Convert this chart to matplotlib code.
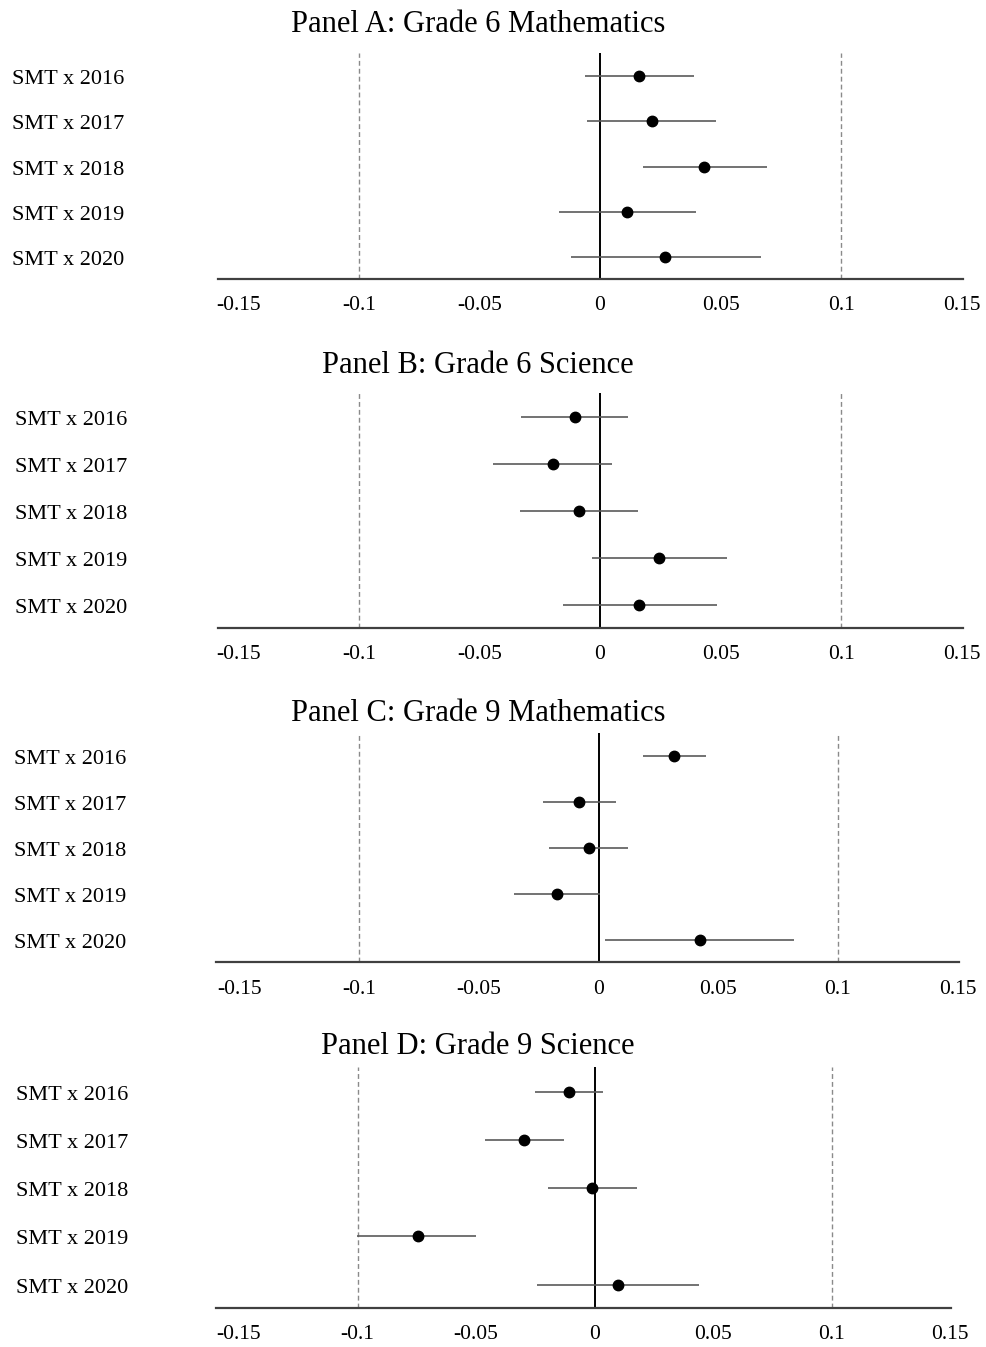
import matplotlib
matplotlib.use("Agg")
import matplotlib.pyplot as plt
import matplotlib.transforms as mtransforms
import numpy as np

plt.rcParams['font.family'] = ['Liberation Serif', 'DejaVu Serif']

# ---------------- data ----------------
row_labels = ["SMT x 2016", "SMT x 2017", "SMT x 2018", "SMT x 2019", "SMT x 2020"]
panel_titles = ["Panel A: Grade 6 Mathematics", "Panel B: Grade 6 Science",
                "Panel C: Grade 9 Mathematics", "Panel D: Grade 9 Science"]

est_a = [0.0163, 0.0216, 0.0433, 0.0111, 0.0271]
lo_a = [-0.0062, -0.0053, 0.0177, -0.0169, -0.0122]
hi_a = [0.0390, 0.0481, 0.0694, 0.0397, 0.0667]

est_b = [-0.0104, -0.0194, -0.0087, 0.0246, 0.0163]
lo_b = [-0.0328, -0.0445, -0.0332, -0.0035, -0.0155]
hi_b = [0.0118, 0.0051, 0.0159, 0.0527, 0.0484]

est_c = [0.0314, -0.0081, -0.0040, -0.0173, 0.0423]
lo_c = [0.0185, -0.0233, -0.0205, -0.0353, 0.0027]
hi_c = [0.0448, 0.0072, 0.0123, 0.0006, 0.0817]

est_d = [-0.0108, -0.0296, -0.0012, -0.0746, 0.0100]
lo_d = [-0.0251, -0.0462, -0.0197, -0.1001, -0.0244]
hi_d = [0.0037, -0.0129, 0.0178, -0.0501, 0.0438]

xtick_values = [-0.15, -0.1, -0.05, 0, 0.05, 0.1, 0.15]
xtick_labels = ["-0.15", "-0.1", "-0.05", "0", "0.05", "0.1", "0.15"]
ref_lines = [-0.1, 0.1]

panels = [(est_a, lo_a, hi_a), (est_b, lo_b, hi_b), (est_c, lo_c, hi_c), (est_d, lo_d, hi_d)]

# ---------------- layout (pixels) ----------------
W, H = 987, 1347
boxes = [(218, 963, 52.7, 279.0),
         (218, 963, 393.0, 627.7),
         (216, 959, 732.7, 962.3),
         (216.5, 951, 1067.0, 1307.7)]
xlims = [(-0.1585, 0.1506), (-0.1585, 0.1506), (-0.1598, 0.1506), (-0.1595, 0.1503)]
label_x = [12, 15, 14, 16]
title_baseline = [31.7, 372.7, 720.7, 1053.5]
title_x = 478

fig = plt.figure(figsize=(W / 100, H / 100), dpi=100)
fig.patch.set_facecolor("white")

for i, ((est, lo, hi), (xl, xr, yt, yb)) in enumerate(zip(panels, boxes)):
    ax = fig.add_axes([xl / W, 1 - yb / H, (xr - xl) / W, (yb - yt) / H])
    est = np.array(est)
    lo = np.array(lo)
    hi = np.array(hi)
    ypos = np.arange(len(row_labels))

    for r in ref_lines:
        ax.axvline(r, color="#8a8a8a", lw=1.0, linestyle=(0, (3.5, 2.2)), zorder=1)
    ax.axvline(0, color="black", lw=1.4, zorder=2)
    ax.errorbar(est, ypos, xerr=[est - lo, hi - est], fmt="o", color="black",
                ecolor="#5a5a5a", elinewidth=1.2, capsize=0, markersize=7.5, zorder=3)

    ax.set_xlim(*xlims[i])
    ax.set_ylim(4.48, -0.51)
    ax.set_yticks([])
    ax.set_xticks(xtick_values)
    ax.set_xticklabels(xtick_labels, fontsize=15.5)
    ax.tick_params(axis="x", length=0, pad=12.5, colors="black")
    for s in ["top", "left", "right"]:
        ax.spines[s].set_visible(False)
    ax.spines["bottom"].set_color("#404040")
    ax.spines["bottom"].set_linewidth(1.6)
    ax.patch.set_alpha(0)

    trans = mtransforms.blended_transform_factory(fig.transFigure, ax.transData)
    trans = mtransforms.offset_copy(trans, fig=fig, x=0, y=-8.0, units="dots")
    for yv, lab in zip(ypos, row_labels):
        ax.text(label_x[i] / W, yv, lab, transform=trans, ha="left", va="baseline",
                fontsize=16, color="black")

    fig.text(title_x / W, 1 - title_baseline[i] / H, panel_titles[i], ha="center",
             va="baseline", fontsize=22, color="black")

fig.savefig("out.png", dpi=100, facecolor="white")
